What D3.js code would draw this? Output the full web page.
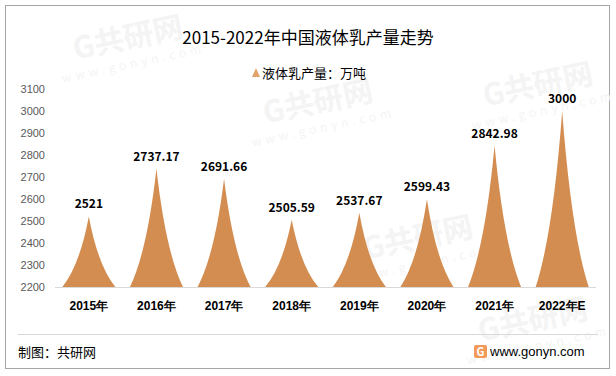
<!DOCTYPE html>
<html>
<head>
<meta charset="utf-8">
<script src="https://cdn.jsdelivr.net/npm/d3@7"></script>
<style>
  body { margin: 0; background: #fff; }
  svg { display: block; font-family: "Noto Sans CJK SC", "Noto Sans", sans-serif; }
</style>
</head>
<body>
<div id="chart"></div>
<script>
// DATA
const years = ['2015年', '2016年', '2017年', '2018年', '2019年', '2020年', '2021年', '2022年E']
const output = [2521, 2737.17, 2691.66, 2505.59, 2537.67, 2599.43, 2842.98, 3000]
const labels = ['2521', '2737.17', '2691.66', '2505.59', '2537.67', '2599.43', '2842.98', '3000']
const yTicks = [2200, 2300, 2400, 2500, 2600, 2700, 2800, 2900, 3000, 3100]

// SETTINGS
const width = 616
const height = 376
const margin = { left: 55, right: 20, top: 89, bottom: 89 }
const peakColor = '#D48D50'
// watermark spots [x, y]
const marks = [[130, 48], [320, 112], [420, 248], [535, 330], [540, 95]]

const svg = d3.select('#chart').append('svg')
    .attr('width', width)
    .attr('height', height)

// frame
svg.append('rect')
    .attr('x', 5.5).attr('y', 5.5)
    .attr('width', 604).attr('height', 363)
    .attr('fill', '#fff')
    .attr('stroke', '#a6a6a6')

// faint watermarks
const wm = svg.append('g').attr('fill', '#f4f4f4')
marks.forEach(([mx, my]) => {
    const g = wm.append('g').attr('transform', `translate(${mx},${my}) rotate(-12)`)
    g.append('text')
        .attr('text-anchor', 'middle')
        .attr('font-size', 30)
        .attr('font-weight', 'bold')
        .text('G共研网')
    g.append('text')
        .attr('y', 20)
        .attr('text-anchor', 'middle')
        .attr('font-size', 12)
        .attr('letter-spacing', 4)
        .text('www.gonyn.com')
})

const x = d3.scaleBand()
    .domain(years)
    .range([margin.left, width - margin.right])
    .paddingInner(0.2)
    .paddingOuter(0.1)

const y = d3.scaleLinear()
    .domain([2200, 3100])
    .range([height - margin.bottom, margin.top])

// title
svg.append('text')
    .attr('x', 308).attr('y', 44)
    .attr('text-anchor', 'middle')
    .attr('font-size', 17)
    .attr('fill', '#000')
    .text('2015-2022年中国液体乳产量走势')

// legend
svg.append('path')
    .attr('d', 'M0,-5 L4,4 L-4,4 Z')
    .attr('transform', 'translate(256,73)')
    .attr('fill', '#E2A36B')
svg.append('text')
    .attr('x', 262).attr('y', 78)
    .attr('font-size', 13)
    .attr('fill', '#000')
    .text('液体乳产量：万吨')

// y axis labels (no line)
const yAxis = d3.axisLeft(y).tickValues(yTicks).tickFormat(d3.format('d')).tickSize(0).tickPadding(0)
const gy = svg.append('g')
    .attr('transform', `translate(45,0)`)
    .call(yAxis)
gy.select('.domain').remove()
gy.selectAll('text')
    .attr('font-size', 11)
    .attr('fill', '#595959')
    .attr('font-family', '"Liberation Sans", Arial, sans-serif')

// x axis
const xAxis = d3.axisBottom(x).tickSize(0).tickPadding(14)
const gx = svg.append('g')
    .attr('transform', `translate(0,${y(2200)})`)
    .call(xAxis)
gx.select('.domain')
    .attr('d', `M${margin.left},0.5H${width - margin.right}`)
    .attr('stroke', '#d9d9d9')
gx.selectAll('text')
    .attr('font-size', 12)
    .attr('font-weight', 'bold')
    .attr('fill', '#000')

// peaks
function peakPath(d, i) {
    const cx = x(years[i]) + x.bandwidth() / 2
    const hw = x.bandwidth() / 2 * 0.98
    const base = y(2200)
    const top = y(d)
    const h = base - top
    return `M${cx - hw},${base}` +
        `Q${cx - hw * 0.35},${base - h * 0.3} ${cx},${top}` +
        `Q${cx + hw * 0.35},${base - h * 0.3} ${cx + hw},${base}Z`
}

svg.append('g').selectAll('path')
    .data(output)
    .enter().append('path')
    .attr('d', peakPath)
    .attr('fill', peakColor)

// value labels
svg.append('g').selectAll('text')
    .data(output)
    .enter().append('text')
    .attr('x', (d, i) => x(years[i]) + x.bandwidth() / 2)
    .attr('y', d => y(d) - 8)
    .attr('text-anchor', 'middle')
    .attr('font-size', 12)
    .attr('font-weight', 'bold')
    .attr('fill', '#000')
    .text((d, i) => labels[i])

// footer
svg.append('line')
    .attr('x1', 18).attr('x2', 598)
    .attr('y1', 334.5).attr('y2', 334.5)
    .attr('stroke', '#d9d9d9')

svg.append('text')
    .attr('x', 18).attr('y', 357)
    .attr('font-size', 13)
    .attr('fill', '#000')
    .text('制图：共研网')

const logo = svg.append('g').attr('transform', 'translate(474,345)')
logo.append('rect')
    .attr('width', 13).attr('height', 13).attr('rx', 2)
    .attr('fill', '#F39A5A')
logo.append('text')
    .attr('x', 6.5).attr('y', 11)
    .attr('text-anchor', 'middle')
    .attr('font-size', 11)
    .attr('font-weight', 'bold')
    .attr('fill', '#fff')
    .text('G')
svg.append('text')
    .attr('x', 490).attr('y', 356)
    .attr('font-size', 13)
    .attr('fill', '#000')
    .attr('font-family', '"Liberation Sans", Arial, sans-serif')
    .text('www.gonyn.com')
</script>
</body>
</html>
